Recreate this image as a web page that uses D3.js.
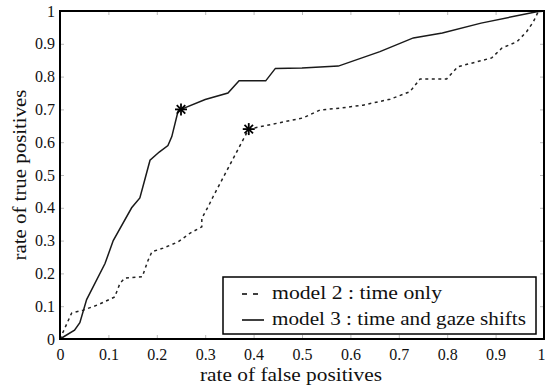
<!DOCTYPE html>
<html lang="en">
    <head>
        <meta charset="utf-8">
        <title>ROC curves</title>
        <script type="text/javascript" src="https://cdn.jsdelivr.net/npm/d3@7/dist/d3.min.js"></script>
        <style>
            body { margin: 0; background: #fff; }
        </style>
    </head>
    <body>
        <script type="text/javascript">
            // data: [false positive rate, true positive rate]
            var model2 = [[0,0],[0.016,0.053],[0.024,0.079],[0.048,0.088],[0.078,0.104],[0.113,0.128],
                [0.124,0.17],[0.134,0.186],[0.17,0.19],[0.182,0.24],[0.19,0.266],[0.213,0.277],
                [0.244,0.296],[0.269,0.323],[0.293,0.342],[0.293,0.368],[0.306,0.403],[0.316,0.433],
                [0.39,0.64],[0.502,0.674],[0.537,0.698],[0.579,0.704],[0.626,0.713],[0.682,0.731],
                [0.723,0.754],[0.744,0.793],[0.799,0.793],[0.822,0.83],[0.892,0.857],[0.913,0.887],
                [0.944,0.906],[0.964,0.937],[0.978,0.967],[0.988,0.998],[1,1]];
            var model3 = [[0,0],[0.03,0.027],[0.041,0.05],[0.055,0.12],[0.093,0.23],[0.11,0.30],
                [0.148,0.40],[0.165,0.43],[0.176,0.49],[0.186,0.545],[0.205,0.57],[0.223,0.59],
                [0.231,0.617],[0.244,0.695],[0.25,0.70],[0.30,0.73],[0.347,0.75],[0.37,0.787],
                [0.425,0.787],[0.445,0.825],[0.50,0.826],[0.575,0.832],[0.661,0.876],[0.73,0.918],
                [0.79,0.933],[0.87,0.963],[0.985,0.998],[1,1]];
            var stars = [[0.39,0.64],[0.25,0.70]];
            var tickValues = [0,0.1,0.2,0.3,0.4,0.5,0.6,0.7,0.8,0.9,1];
            var legendLabels = ["model 2 : time only", "model 3 : time and gaze shifts"];

            var svgWidth = 545;
            var svgHeight = 388;
            var pLeft = 60, pRight = 544, pTop = 11, pBottom = 339;
            var serif = "'Liberation Serif', 'Times New Roman', 'DejaVu Serif', serif";

            var svg = d3.select("body")
                        .append("svg")
                        .attr("width", svgWidth)
                        .attr("height", svgHeight)
                        .style("font-family", serif);

            var xScale = d3.scaleLinear().domain([0, 1]).range([pLeft, pRight]);
            var yScale = d3.scaleLinear().domain([0, 1]).range([pBottom, pTop]);

            var fmt = function(d) { return d === 0 || d === 1 ? String(d) : d3.format(".1f")(d); };

            // inward ticks on all four sides
            var tickColor = "#bbb";
            function styleAxis(g) {
                g.attr("font-family", serif).attr("font-size", 16);
                g.select(".domain").remove();
                g.selectAll("line").attr("stroke", tickColor);
                g.selectAll("text").attr("fill", "#111");
            }
            svg.append("g")
                .attr("transform", "translate(0," + pBottom + ")")
                .call(d3.axisBottom(xScale).tickValues(tickValues).tickSize(-4).tickPadding(10).tickFormat(fmt))
                .call(styleAxis)
                .call(function(g) {
                    // last label sits against the right edge of the picture
                    g.selectAll(".tick text").filter(function(d) { return d === 1; }).attr("text-anchor", "end").attr("dx", 1);
                });
            svg.append("g")
                .attr("transform", "translate(0," + pTop + ")")
                .call(d3.axisTop(xScale).tickValues(tickValues).tickSize(-4).tickFormat(""))
                .call(styleAxis);
            svg.append("g")
                .attr("transform", "translate(" + pLeft + ",0)")
                .call(d3.axisLeft(yScale).tickValues(tickValues).tickSize(-4).tickPadding(5).tickFormat(fmt))
                .call(styleAxis);
            svg.append("g")
                .attr("transform", "translate(" + pRight + ",0)")
                .call(d3.axisRight(yScale).tickValues(tickValues).tickSize(-4).tickFormat(""))
                .call(styleAxis);

            var line = d3.line()
                .x(function(d) { return xScale(d[0]); })
                .y(function(d) { return yScale(d[1]); });

            svg.append("path")
                .datum(model2)
                .attr("d", line)
                .attr("fill", "none")
                .attr("stroke", "#222")
                .attr("stroke-width", 1.5)
                .attr("stroke-dasharray", "3,3.5");

            svg.append("path")
                .datum(model3)
                .attr("d", line)
                .attr("fill", "none")
                .attr("stroke", "#1a1a1a")
                .attr("stroke-width", 1.5);

            // asterisk markers
            var star = svg.selectAll(".star")
                .data(stars)
                .enter()
                .append("g")
                .attr("class", "star")
                .attr("transform", function(d) { return "translate(" + xScale(d[0]) + "," + yScale(d[1]) + ")"; });
            [0, 45, 90, 135].forEach(function(a) {
                star.append("line")
                    .attr("x1", -6).attr("x2", 6).attr("y1", 0).attr("y2", 0)
                    .attr("transform", "rotate(" + a + ")")
                    .attr("stroke", "#000")
                    .attr("stroke-width", 1.8);
            });

            // plot frame
            svg.append("rect")
                .attr("x", pLeft).attr("y", pTop)
                .attr("width", pRight - pLeft).attr("height", pBottom - pTop)
                .attr("fill", "none")
                .attr("stroke", "#000")
                .attr("stroke-width", 2);

            // legend
            svg.append("rect")
                .attr("x", 223).attr("y", 277)
                .attr("width", 313).attr("height", 57)
                .attr("fill", "#fff")
                .attr("stroke", "#000")
                .attr("stroke-width", 1.5);

            var legendWidths = [170, 254];
            var legend = svg.selectAll(".legend")
                .data(legendLabels)
                .enter()
                .append("g")
                .attr("class", "legend")
                .attr("transform", function(d, i) { return "translate(0," + (294 + i * 26) + ")"; });
            legend.append("line")
                .attr("x1", 242).attr("x2", 264)
                .attr("stroke", "#000")
                .attr("stroke-width", 1.5)
                .attr("stroke-dasharray", function(d, i) { return i === 0 ? "5,6" : null; });
            legend.append("text")
                .attr("x", 272)
                .attr("y", 5)
                .attr("font-size", 19)
                .attr("fill", "#111")
                .attr("textLength", function(d, i) { return legendWidths[i]; })
                .attr("lengthAdjust", "spacingAndGlyphs")
                .text(function(d) { return d; });

            // axis labels
            svg.append("text")
                .attr("x", 291)
                .attr("y", 381)
                .attr("font-size", 18)
                .attr("fill", "#111")
                .attr("text-anchor", "middle")
                .attr("textLength", 182)
                .attr("lengthAdjust", "spacingAndGlyphs")
                .text("rate of false positives");

            svg.append("text")
                .attr("transform", "translate(26,175) rotate(-90)")
                .attr("font-size", 19)
                .attr("fill", "#111")
                .attr("text-anchor", "middle")
                .attr("textLength", 171)
                .attr("lengthAdjust", "spacingAndGlyphs")
                .text("rate of true positives");
        </script>
    </body>
</html>
